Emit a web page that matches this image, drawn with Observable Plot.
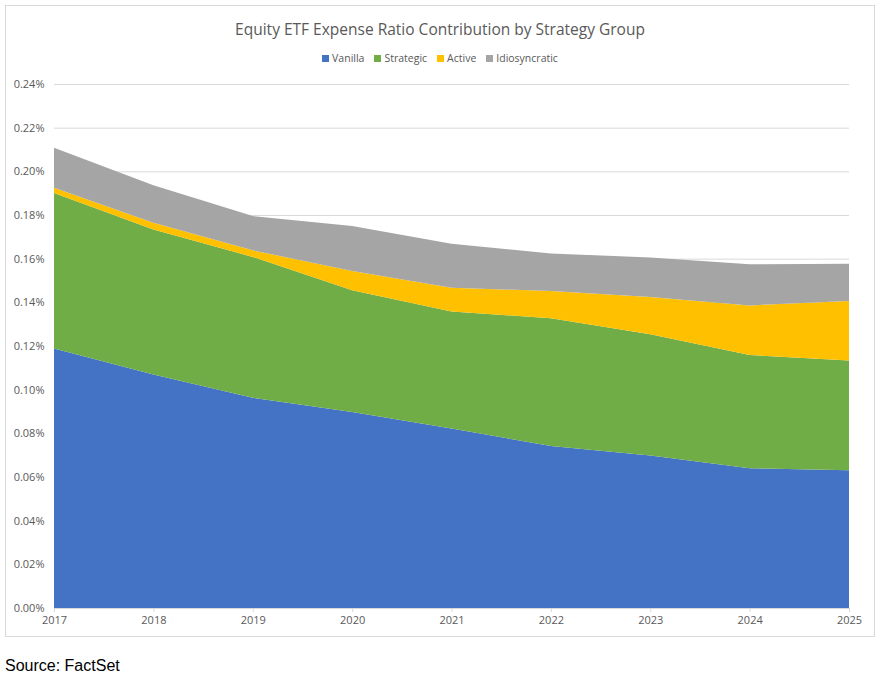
<!DOCTYPE html>
<html>
<head>
<meta charset="utf-8">
<script src="https://cdn.jsdelivr.net/npm/d3@7"></script>
<script src="https://cdn.jsdelivr.net/npm/@observablehq/plot@0.6"></script>
<style>
  body { margin: 0; background: #fff; font-family: "Open Sans", "Noto Sans", sans-serif; }
  #frame { position: absolute; left: 5px; top: 5px; width: 868px; height: 630px; border: 1px solid #d9d9d9; }
  #title { position: absolute; left: 0; width: 868px; top: 12px; text-align: center; font-size: 15.5px; color: #595959; }
  #legend { position: absolute; left: 0; width: 868px; top: 45px; text-align: center; font-size: 10.5px; color: #595959; }
  #legend span.item { margin: 0 5px; white-space: nowrap; }
  #legend span.sw { display: inline-block; width: 7px; height: 7px; margin-right: 3px; vertical-align: 0px; }
  #chart { position: absolute; left: 0; top: 60px; }
  #source { position: absolute; left: 5px; top: 657px; font-family: "Liberation Sans", Arial, sans-serif; font-size: 16px; color: #000; }
</style>
</head>
<body>
<div id="frame">
  <div id="title">Equity ETF Expense Ratio Contribution by Strategy Group</div>
  <div id="legend"></div>
  <div id="chart"></div>
</div>
<div id="source">Source: FactSet</div>
<script>
const years = [2017, 2018, 2019, 2020, 2021, 2022, 2023, 2024, 2025];
const vanilla       = [0.1189, 0.1070, 0.0963, 0.0898, 0.0822, 0.0742, 0.0699, 0.0640, 0.0631];
const strategic     = [0.0712, 0.0664, 0.0645, 0.0557, 0.0536, 0.0585, 0.0555, 0.0519, 0.0503];
const active        = [0.0024, 0.0031, 0.0030, 0.0089, 0.0109, 0.0125, 0.0170, 0.0227, 0.0272];
const idiosyncratic = [0.0183, 0.0171, 0.0157, 0.0206, 0.0201, 0.0172, 0.0181, 0.0188, 0.0171];
const groups = ["Vanilla", "Strategic", "Active", "Idiosyncratic"];
const colors = ["#4472c4", "#70ad47", "#ffc000", "#a5a5a5"];
const yTicks = [0, 0.02, 0.04, 0.06, 0.08, 0.10, 0.12, 0.14, 0.16, 0.18, 0.20, 0.22, 0.24];

const series = [vanilla, strategic, active, idiosyncratic];
const data = [];
groups.forEach((g, gi) => years.forEach((y, i) => data.push({year: y, group: g, value: series[gi][i]})));

const legend = document.getElementById("legend");
groups.forEach((g, i) => {
  const s = document.createElement("span");
  s.className = "item";
  s.innerHTML = `<span class="sw" style="background:${colors[i]}"></span>${g}`;
  legend.appendChild(s);
});

const chart = Plot.plot({
  width: 868,
  height: 572,
  marginTop: 18,
  marginBottom: 30,
  marginLeft: 48,
  marginRight: 25,
  style: { fontFamily: "'Open Sans', 'Noto Sans', sans-serif", fontSize: "11px", color: "#595959", background: "transparent" },
  x: { domain: [2017, 2025], label: null },
  y: { domain: [0, 0.24], label: null },
  color: { domain: groups, range: colors },
  marks: [
    Plot.gridY(yTicks, { stroke: "#d9d9d9", strokeOpacity: 1, strokeWidth: 1 }),
    Plot.areaY(data, { x: "year", y: "value", fill: "group", order: groups, curve: "linear" }),
    Plot.ruleY([0], { stroke: "#d9d9d9", strokeWidth: 1 }),
    Plot.axisX({ ticks: years, tickFormat: d => String(d), tickSize: 4, tickPadding: 4, stroke: "#d9d9d9", color: "#595959" }),
    Plot.axisY({ ticks: yTicks, tickFormat: d => d.toFixed(2) + "%", tickSize: 0, tickPadding: 10, color: "#595959" })
  ]
});
document.getElementById("chart").appendChild(chart);
</script>
</body>
</html>
